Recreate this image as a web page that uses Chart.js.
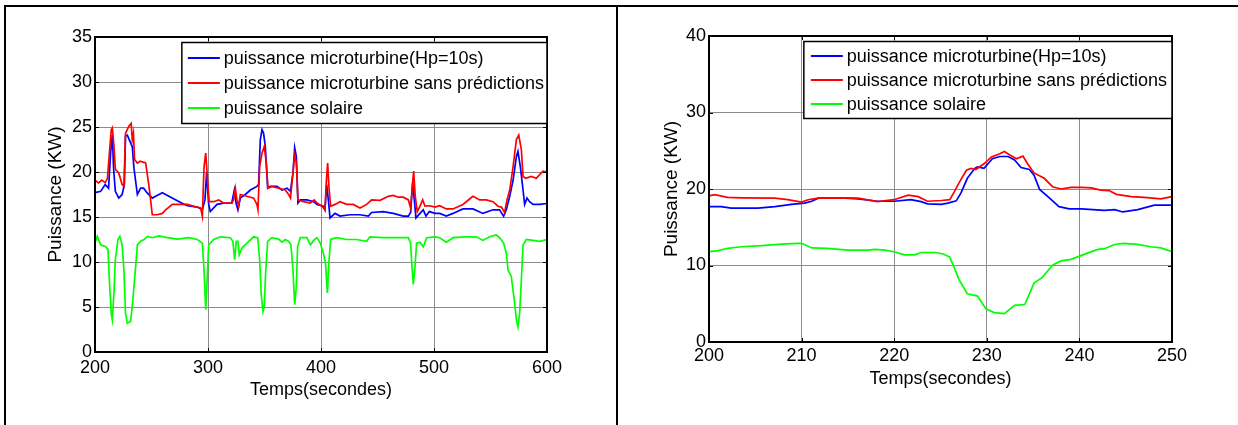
<!DOCTYPE html>
<html>
<head>
<meta charset="utf-8">
<script src="https://cdn.jsdelivr.net/npm/chart.js@4.4.0/dist/chart.umd.min.js"></script>
<style>
  body { margin: 0; background: #fff; }
  #page { position: relative; width: 1238px; height: 425px; overflow: hidden; background: #fff; }
  canvas { position: absolute; top: 0; }
  .trait { position: absolute; background: #000; }
</style>
</head>
<body>
<div id="page">
  <canvas id="graphA" width="617" height="425" style="left:0"></canvas>
  <canvas id="graphB" width="618" height="425" style="left:620px"></canvas>
  <div class="trait" style="left:4px;top:5px;width:1234px;height:2px"></div>
  <div class="trait" style="left:4px;top:5px;width:2px;height:420px"></div>
  <div class="trait" style="left:616px;top:5px;width:2px;height:420px"></div>
</div>
<script>
// ---- graphe de gauche (200 - 600 s) ----
const ticksXA = [200, 300, 400, 500, 600];
const ticksYA = [0, 5, 10, 15, 20, 25, 30, 35];

const tempsMicroA = [200, 205, 209, 212, 213.8, 215.3, 216.5, 218, 221, 224, 226, 227, 228.6, 233, 234.5, 237.5,
  240.4, 243, 246, 250.7, 253.7, 259.6, 267, 275.8, 281.7, 290.5, 295, 297.3, 298.8, 300.5, 302, 308, 313.8,
  321, 323.3, 324.8, 326.5, 328.6, 333, 337.5, 343.3, 344.8, 346.3, 347.8, 349.2, 350.7, 352.8, 355.1, 361,
  365.5, 370, 372.9, 375.2, 376.7, 378.2, 379.6, 381.7, 387.6, 393.5, 396.4, 402, 403.5, 405, 406.5, 408,
  412.4, 416.8, 425.6, 434.5, 441.9, 444.8, 455.1, 464, 472.8, 477.3, 479.3, 481.1, 482.6, 484, 487.6, 490.5,
  492.9, 495.9, 500.9, 505, 510.9, 516.8, 525.6, 534.5, 543.3, 552.2, 558, 561.6, 564, 567, 570, 572.9, 574.3,
  576.4, 578.8, 580.2, 582.3, 584.6, 587.6, 593.5, 600];
const microA = [17.7, 17.85, 18.6, 18.2, 22.1, 24.1, 20.3, 17.85, 17.1, 17.5, 18.6, 24.0, 24.1, 22.8, 20.4, 17.5,
  18.2, 18.2, 17.7, 17.1, 17.3, 17.7, 17.2, 16.6, 16.25, 16.1, 15.8, 16.9, 20.0, 16.5, 15.6, 16.4, 16.55,
  16.55, 18.0, 16.55, 15.8, 17.1, 17.5, 18.0, 18.4, 18.6, 23.6, 24.7, 24.3, 22.85, 18.2, 18.4, 18.4,
  18.0, 18.2, 17.85, 19.9, 22.7, 21.7, 16.55, 16.9, 16.9, 16.7, 16.4, 16.2, 15.8, 18.6, 16.9, 14.9,
  15.4, 15.1, 15.25, 15.25, 15.1, 15.5, 15.6, 15.4, 15.1, 15.1, 15.5, 18.8, 16.9, 14.9, 15.4, 15.8,
  15.1, 15.6, 15.4, 15.4, 15.1, 15.4, 15.9, 15.9, 15.4, 15.8, 15.8, 15.1, 15.8, 17.3, 19.1, 21.7, 22.3,
  20.6, 18.0, 16.4, 17.1, 16.7, 16.4, 16.4, 16.5];

const tempsSansPredA = [200, 203, 206, 209, 211, 213, 214.4, 215.3, 216.8, 218, 221, 224, 225.6, 227, 230, 232,
  233, 234, 235, 237.5, 240, 244.8, 247.8, 250.7, 255, 259.6, 262.5, 268.4, 275.8, 281.7, 287.6, 293.5, 295,
  296.5, 298, 299.4, 301, 305, 309.4, 313.8, 321, 322.6, 324.2, 325.6, 327.1, 328.6, 334.5, 340.4, 343.3,
  344.2, 345.7, 347.8, 349.8, 351.6, 353.1, 356.6, 362.5, 368.4, 371.4, 373, 374.9, 376.7, 378.2, 379.6,
  384.6, 390.5, 394, 396.4, 400.9, 403.5, 404.8, 405.9, 407, 408.5, 412.4, 416.8, 422.7, 428.6, 434.5,
  440.4, 444.8, 452.2, 459.6, 464, 468.4, 472.8, 477.3, 479.3, 480.8, 482, 483.4, 485.2, 487.6, 490, 492,
  496.4, 500.9, 505, 510.9, 516.8, 525.6, 531.5, 534.5, 540.4, 546.3, 552.2, 556.6, 559.6, 562.5, 564.6,
  567, 570, 572.9, 575, 577.3, 578.8, 581.1, 586.1, 590.5, 593.5, 596.4, 600];
const sansPredA = [19.1, 18.8, 19.1, 18.8, 19.3, 22.5, 24.7, 24.9, 22.85, 20.3, 19.9, 18.6, 18.4, 24.3, 25.1, 25.4,
  23.6, 24.3, 21.4, 21.0, 21.2, 21.0, 18.4, 15.25, 15.25, 15.4, 15.8, 16.4, 16.4, 16.4, 16.2, 16.0, 15.1,
  20.6, 22.1, 19.5, 16.7, 16.7, 16.9, 16.55, 16.55, 16.9, 18.2, 16.9, 16.2, 17.5, 17.3, 17.1, 16.4,
  15.8, 20.6, 22.1, 22.85, 21.0, 18.2, 18.4, 18.2, 18.0, 17.5, 17.1, 19.5, 21.9, 21.0, 16.9,
  16.7, 16.55, 16.9, 16.55, 16.2, 15.8, 19.1, 21.0, 18.4, 16.2, 16.4, 16.7, 16.4, 16.4, 16.0,
  16.4, 16.9, 16.85, 17.3, 17.4, 17.2, 17.2, 16.9, 16.0, 18.4, 20.1, 17.3, 15.6, 16.2, 16.9, 16.2,
  16.25, 16.1, 16.25, 15.9, 15.9, 16.4, 17.0, 17.3, 16.9, 16.9, 16.7, 16.2, 16.1, 15.5, 16.9,
  18.0, 20.6, 23.6, 24.1, 22.5, 19.5, 19.3, 19.5, 19.3, 19.7, 20.1, 20.0];

const tempsSolaireA = [200, 202, 205, 209.4, 211.5, 213, 214.4, 215.3, 216.8, 218, 220.3, 222, 224, 225.6, 227,
  228.6, 231.5, 233, 234.5, 236, 237.5, 240.4, 243.4, 246.3, 250.7, 256.6, 264, 272.9, 283.2, 290.5, 295,
  296.5, 298, 299.4, 300.6, 305, 310.9, 319.7, 322, 323.6, 325, 326.5, 327.7, 330, 334.5, 340.4, 344,
  345.7, 347.2, 348.7, 349.8, 351, 352.8, 356.6, 362.5, 365.5, 368.4, 371.4, 373.4, 375.2, 376.7, 378.2,
  379.3, 381.7, 387.6, 390.5, 393.5, 396.4, 399.4, 402, 404, 405.6, 407, 408.5, 413.8, 422.7, 431.5,
  440.4, 443.3, 455.1, 467, 477.3, 479.3, 480.5, 481.7, 483.2, 484.6, 487.6, 490.5, 493.5, 500.9, 505,
  510.9, 516.8, 528.6, 537.4, 543.3, 549.2, 555.1, 558, 561.6, 564, 565.5, 568.4, 571.4, 572.9, 574.3,
  575.8, 577.3, 578.8, 581.7, 587.6, 593.5, 600];
const solaireA = [12.1, 12.85, 11.9, 11.7, 11.4, 7.3, 4.3, 3.6, 6.55, 10.25, 12.5, 12.85, 11.9, 9.1, 4.3,
  3.2, 3.4, 5.1, 7.3, 9.5, 11.9, 12.3, 12.5, 12.85, 12.7, 12.9, 12.7, 12.55, 12.7, 12.5, 12.1,
  9.1, 4.7, 8.4, 11.9, 12.5, 12.8, 12.7, 12.3, 10.25, 12.3, 12.3, 10.8, 11.55, 12.1, 12.8, 12.7,
  10.25, 6.2, 4.5, 5.1, 8.8, 12.3, 12.7, 12.55, 12.2, 12.5, 12.3, 11.9, 9.1, 5.25, 7.3,
  11.7, 12.7, 12.7, 11.9, 12.4, 12.7, 12.1, 11.0, 9.9, 6.55, 9.9, 12.5, 12.7, 12.5, 12.5,
  12.3, 12.8, 12.7, 12.7, 12.7, 12.1, 9.5, 7.5, 9.5, 12.1, 12.2, 11.7, 12.7, 12.8, 12.7,
  12.2, 12.7, 12.8, 12.8, 12.4, 12.8, 13.0, 12.7, 12.1, 11.0, 9.1, 8.4, 5.4, 3.6, 2.8,
  4.3, 8.0, 11.9, 12.5, 12.4, 12.3, 12.5];

// ---- graphe de droite (zoom 200 - 250 s) ----
const ticksXB = [200, 210, 220, 230, 240, 250];
const ticksYB = [0, 10, 20, 30, 40];

const tempsMicroB = [200, 201.3, 202.4, 205.3, 207.1, 208.9, 210.3, 211.1, 211.8, 214.3, 216.1, 218.2, 220, 221.8,
  222.9, 223.6, 225.1, 225.8, 226.7, 227.2, 227.9, 228.7, 229, 229.7, 230.6, 231.4, 232.3, 233, 233.7, 234.6,
  235.1, 235.7, 236.6, 237.8, 238.9, 240.2, 242.7, 243.8, 244.7, 246.3, 248.1, 250];
const microB = [17.7, 17.7, 17.5, 17.5, 17.7, 18.0, 18.15, 18.4, 18.8, 18.85, 18.7, 18.4, 18.4, 18.6,
  18.35, 18.05, 18.0, 18.15, 18.45, 19.45, 21.4, 22.7, 22.9, 22.7, 23.95, 24.25, 24.25, 23.8, 22.8, 22.55,
  21.8, 19.95, 19.0, 17.7, 17.4, 17.4, 17.2, 17.3, 17.0, 17.3, 17.9, 17.9];

const tempsSansPredB = [200, 200.6, 202, 203.5, 207.1, 208.5, 210, 210.7, 211.8, 214.3, 216.1, 218.2, 220, 221.5,
  222.6, 223.6, 225.1, 226, 226.5, 227, 227.8, 228.3, 228.8, 229.7, 230.5, 231.4, 231.9, 232.4, 233.2, 233.9,
  234.4, 235.1, 236.2, 237.1, 238, 239.1, 240.2, 241.3, 242.3, 243.2, 244, 245.6, 247, 248.8, 250];
const sansPredB = [19.1, 19.25, 18.9, 18.85, 18.8, 18.6, 18.3, 18.6, 18.8, 18.85, 18.8, 18.35, 18.6, 19.2,
  19.0, 18.4, 18.5, 18.6, 19.65, 20.8, 22.45, 22.7, 22.55, 23.3, 24.2, 24.6, 24.9, 24.5, 23.95, 24.3,
  23.3, 22.1, 21.4, 20.3, 20.0, 20.2, 20.2, 20.15, 19.85, 19.8, 19.3, 19.0, 18.9, 18.7, 19.0];

const tempsSolaireB = [200, 201, 202, 203.5, 205.7, 207.8, 209.6, 210, 211.1, 212.8, 215, 217.2, 217.9, 219, 220,
  221.1, 222.2, 222.9, 224.4, 225.3, 226, 226.5, 227, 227.9, 229, 229.9, 230.8, 231.9, 233, 234.1, 235.1,
  236, 237.1, 238, 239.1, 240.5, 242, 242.7, 243.8, 244.8, 246.3, 247.7, 248.8, 250];
const solaireB = [11.8, 11.95, 12.25, 12.45, 12.6, 12.8, 12.9, 12.9, 12.3, 12.25, 12.0, 12.0, 12.1, 12.0, 11.8,
  11.4, 11.4, 11.7, 11.7, 11.5, 11.1, 9.65, 8.15, 6.3, 6.0, 4.35, 3.85, 3.7, 4.8, 4.9, 7.7,
  8.45, 10.05, 10.6, 10.8, 11.45, 12.1, 12.2, 12.75, 12.9, 12.75, 12.45, 12.3, 11.8];

const libelles = ['puissance microturbine(Hp=10s)', 'puissance microturbine sans prédictions', 'puissance solaire'];
const couleurs = ['#0000ff', '#ff0000', '#00ff00'];

const POLICE = 'Arial, "Liberation Sans", sans-serif';

const enPoints = (t, v) => t.map((x, i) => ({ x: x, y: v[i] }));

// cadre noir, petites graduations vers l'intérieur et légende encadrée
const cadre = {
  id: 'cadre',
  afterDatasetsDraw(chart, args, opts) {
    const { ctx, chartArea: a, scales } = chart;
    ctx.save();
    ctx.strokeStyle = '#000';
    ctx.lineWidth = 1;
    ctx.beginPath();
    scales.x.ticks.forEach(t => {
      const px = Math.round(scales.x.getPixelForValue(t.value)) + 0.5;
      ctx.moveTo(px, a.bottom); ctx.lineTo(px, a.bottom - 4);
      ctx.moveTo(px, a.top); ctx.lineTo(px, a.top + 4);
    });
    scales.y.ticks.forEach(t => {
      const py = Math.round(scales.y.getPixelForValue(t.value)) + 0.5;
      ctx.moveTo(a.left, py); ctx.lineTo(a.left + 4, py);
      ctx.moveTo(a.right, py); ctx.lineTo(a.right - 4, py);
    });
    ctx.stroke();
    ctx.lineWidth = 2;
    ctx.strokeRect(a.left, a.top, a.right - a.left, a.bottom - a.top);

    // légende
    ctx.font = '18px ' + POLICE;
    const largeur = Math.max(...chart.data.datasets.map(d => ctx.measureText(d.label).width));
    const w = opts.debutTrait + 32 + opts.ecart + largeur + opts.marge;
    const x0 = a.right - w;
    const y0 = a.top + 5.5;
    const h = opts.premier * 2 + opts.pas * 2;
    ctx.fillStyle = '#fff';
    ctx.fillRect(x0, y0, w, h);
    ctx.lineWidth = 1.5;
    ctx.strokeRect(x0, y0, w, h);
    ctx.textBaseline = 'middle';
    ctx.textAlign = 'left';
    libelles.forEach((lib, i) => {
      const y = y0 + opts.premier + i * opts.pas;
      ctx.strokeStyle = couleurs[i];
      ctx.lineWidth = 2;
      ctx.beginPath();
      ctx.moveTo(x0 + opts.debutTrait, y);
      ctx.lineTo(x0 + opts.debutTrait + 32, y);
      ctx.stroke();
      ctx.fillStyle = '#000';
      ctx.fillText(lib, x0 + opts.debutTrait + 32 + opts.ecart, y + 1);
    });
    ctx.restore();
  }
};

function options(cfg) {
  return {
    responsive: false,
    animation: false,
    devicePixelRatio: 1,
    layout: { padding: { top: cfg.haut, right: cfg.droite, left: 0, bottom: 0 } },
    plugins: {
      legend: { display: false },
      tooltip: { enabled: false },
      cadre: cfg.legende,
    },
    elements: {
      point: { radius: 0 },
      line: { borderWidth: 1.7, tension: 0 },
    },
    scales: {
      x: {
        type: 'linear',
        min: cfg.ticksX[0],
        max: cfg.ticksX[cfg.ticksX.length - 1],
        afterBuildTicks: s => { s.ticks = cfg.ticksX.map(v => ({ value: v })); },
        afterFit: s => { s.height = cfg.hauteurX; },
        grid: { color: '#8c8c8c', lineWidth: 1, drawTicks: false },
        border: { display: false },
        ticks: { color: '#000', font: { family: POLICE, size: 18 }, padding: cfg.padX, maxRotation: 0, autoSkip: false },
        title: {
          display: true,
          text: 'Temps(secondes)',
          color: '#000',
          font: { family: POLICE, size: 18 },
          padding: { top: 0, bottom: cfg.titreX },
        },
      },
      y: {
        min: cfg.ticksY[0],
        max: cfg.ticksY[cfg.ticksY.length - 1],
        afterBuildTicks: s => { s.ticks = cfg.ticksY.map(v => ({ value: v })); },
        afterFit: s => { s.width = cfg.largeurY; },
        grid: { color: '#8c8c8c', lineWidth: 1, drawTicks: false },
        border: { display: false },
        ticks: { color: '#000', font: { family: POLICE, size: 18 }, padding: cfg.padY },
        title: {
          display: true,
          text: 'Puissance (KW)',
          color: '#000',
          font: { family: POLICE, size: 19 },
          padding: { top: cfg.titreY, bottom: 0 },
        },
      },
    },
  };
}

function series(t1, v1, t2, v2, t3, v3) {
  return {
    datasets: [
      { label: libelles[0], data: enPoints(t1, v1), borderColor: couleurs[0], order: 1 },
      { label: libelles[1], data: enPoints(t2, v2), borderColor: couleurs[1], order: 0 },
      { label: libelles[2], data: enPoints(t3, v3), borderColor: couleurs[2], order: 2 },
    ],
  };
}

new Chart(document.getElementById('graphA'), {
  type: 'line',
  data: series(tempsMicroA, microA, tempsSansPredA, sansPredA, tempsSolaireA, solaireA),
  options: options({
    haut: 37, droite: 70, largeurY: 95, hauteurX: 73,
    ticksX: ticksXA, ticksY: ticksYA,
    padX: 5, padY: 3, titreX: 24, titreY: 44,
    legende: { debutTrait: 6, ecart: 4, marge: 3, premier: 15.5, pas: 25 },
  }),
  plugins: [cadre],
});

new Chart(document.getElementById('graphB'), {
  type: 'line',
  data: series(tempsMicroB, microB, tempsSansPredB, sansPredB, tempsSolaireB, solaireB),
  options: options({
    haut: 36, droite: 66, largeurY: 89, hauteurX: 83,
    ticksX: ticksXB, ticksY: ticksYB,
    padX: 3, padY: 3, titreX: 35, titreY: 40,
    legende: { debutTrait: 7, ecart: 4, marge: 5, premier: 14.5, pas: 24 },
  }),
  plugins: [cadre],
});
</script>
</body>
</html>
